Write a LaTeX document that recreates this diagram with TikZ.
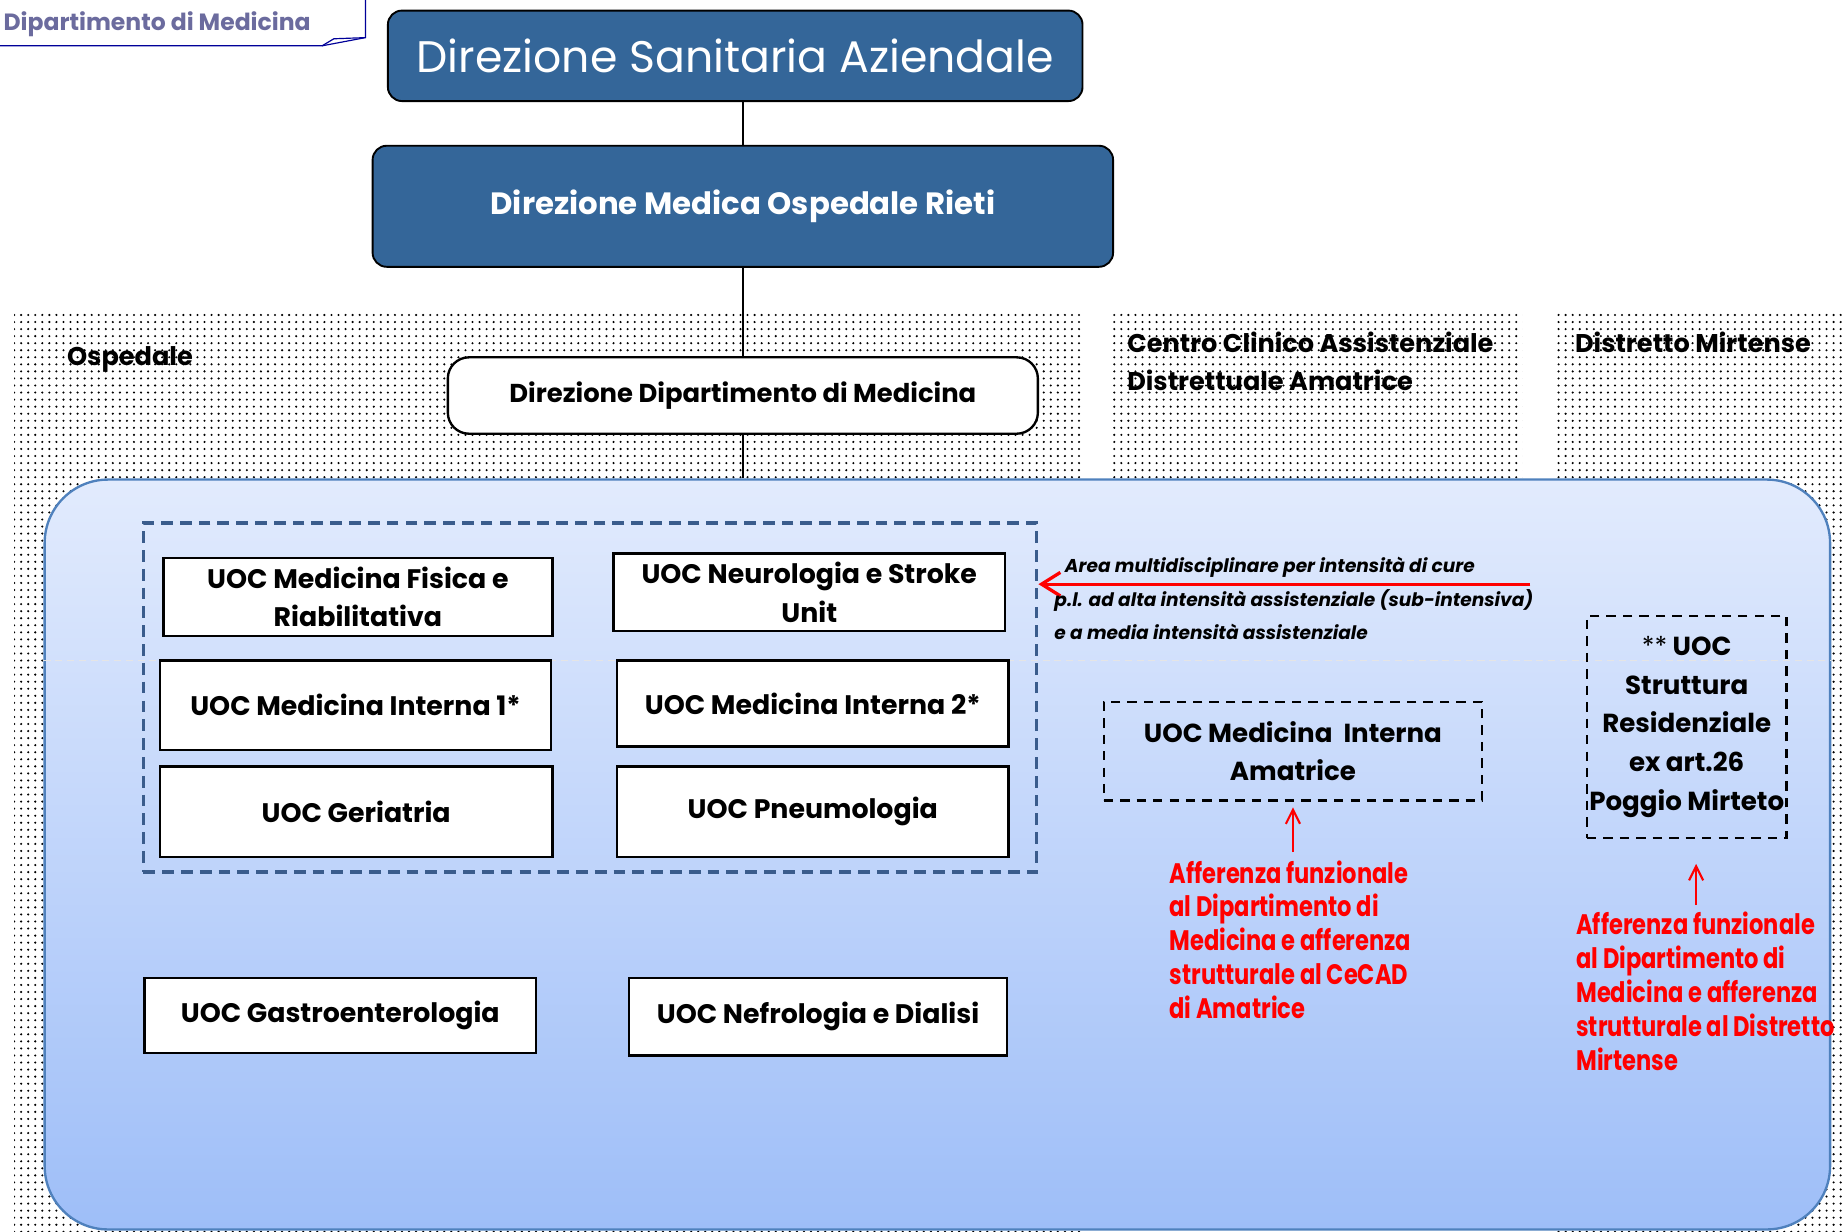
\documentclass[tikz,border=0pt]{standalone}
\usepackage{fontspec}
\setmainfont{Poppins}
\newfontfamily\narrowfont[FakeStretch=0.8]{Poppins}
\usetikzlibrary{patterns,arrows.meta}
\definecolor{dirblue}{RGB}{52,102,153}
\definecolor{grpblue}{RGB}{58,92,140}
\definecolor{contline}{RGB}{79,129,189}
\definecolor{conttop}{RGB}{226,235,253}
\definecolor{contbot}{RGB}{158,190,248}
\definecolor{callout}{RGB}{107,107,158}
\definecolor{noteRed}{RGB}{255,0,0}
\begin{document}
\begin{tikzpicture}[x=0.5pt,y=-0.5pt,
  dirbox/.style={draw=black, line width=0.8pt, fill=dirblue, rounded corners=6pt, text=white},
  depbox/.style={draw=black, line width=1pt, fill=white, rounded corners=9pt, font=\fontsize{11}{13}\selectfont\bfseries},
  uocbox/.style={draw=black, line width=1pt, fill=white, align=center, font=\fontsize{11.4}{16.3}\selectfont\bfseries},
  extbox/.style={draw=black, line width=0.9pt, dash pattern=on 4pt off 3pt, align=center, font=\fontsize{11.1}{16.4}\selectfont\bfseries},
  area/.style={pattern=dots, pattern color=black},
  arealabel/.style={align=left, font=\fontsize{10.9}{16.5}\selectfont\bfseries},
  rednote/.style={align=left, text=noteRed, font=\narrowfont\fontsize{12}{14.4}\selectfont\bfseries},
  redarrow/.style={draw=noteRed, -{Straight Barb[length=6pt,width=6pt]}, line width=0.9pt, shorten >=2.5pt},
  link/.style={draw=black, line width=0.7pt}]
\useasboundingbox (0,0) rectangle (1568,1048);
% dotted areas
\fill[area] (12,265) rectangle (922,1048);
\fill[area] (947,265) rectangle (1295,420);
\fill[area] (1325,265) rectangle (1568,1048);
\node[arealabel, anchor=west] (ospLbl) at (50,306) {Ospedale};
\node[arealabel, anchor=north west] (cecadLbl) at (952,275) {Centro Clinico Assistenziale\\Distrettuale Amatrice};
\node[arealabel, anchor=west] (mirLbl) at (1333,291) {Distretto Mirtense};
% callout at top left
\draw[draw=blue!60!black, line width=0.5pt, fill=white] (-5,-5) -- (311,-5) -- (311,32) -- (274,39) -- (-5,39) -- cycle;
\draw[draw=blue!60!black, line width=0.5pt] (274,39) -- (284,33) -- (311,32);
\node[anchor=west, text=callout, font=\fontsize{10}{12}\selectfont\bfseries] (calloutTxt) at (-4,21) {Dipartimento di Medicina};
% direzioni
\node[dirbox, minimum width=295.5pt, minimum height=38.5pt, font=\fontsize{18.8}{22}\selectfont] (sanit) at (625.5,47.5) {Direzione Sanitaria Aziendale};
\node[dirbox, minimum width=315pt, minimum height=51.5pt, font=\fontsize{13.1}{15}\selectfont\bfseries] (medica) at (632,175.5) {Direzione Medica Ospedale Rieti};
\node[depbox, minimum width=251pt, minimum height=32.5pt] (dipdir) at (632,336.5) {Direzione Dipartimento di Medicina};
\draw[link] (sanit.south -| medica.north) -- (medica.north);
\draw[link] (medica) -- (dipdir);
% department container
\node[draw=contline, line width=1pt, rounded corners=27pt, top color=conttop, bottom color=contbot, minimum width=759.5pt, minimum height=319pt] (cont) at (797.5,727) {};
\draw[link] (dipdir.south) -- (dipdir.south |- cont.north);
\draw[white!80!gray, line width=0.3pt, densely dashed] (cont.west |- 0,562) -- (cont.east |- 0,562);
% area multidisciplinare
\node[draw=grpblue, line width=1.5pt, dash pattern=on 5pt off 3pt, minimum width=380pt, minimum height=148.5pt] (grp) at (502,593.5) {};
\node[uocbox, minimum width=165.5pt, minimum height=33pt] (fisica) at (304.5,508) {UOC Medicina Fisica e\\Riabilitativa};
\node[uocbox, minimum width=166.5pt, minimum height=33pt] (neuro) at (688.5,504) {UOC Neurologia e Stroke\\Unit};
\node[uocbox, minimum width=166.5pt, minimum height=38pt] (int1) at (302.5,600) {UOC Medicina Interna 1*};
\node[uocbox, minimum width=166.5pt, minimum height=36.5pt] (int2) at (691.5,598.5) {UOC Medicina Interna 2*};
\node[uocbox, minimum width=167pt, minimum height=38.5pt] (geri) at (303,690.5) {UOC Geriatria};
\node[uocbox, minimum width=166.5pt, minimum height=38.5pt] (pneumo) at (691.5,690.5) {UOC Pneumologia};
\node[uocbox, minimum width=166.5pt, minimum height=32pt] (gastro) at (289.5,864) {UOC Gastroenterologia};
\node[uocbox, minimum width=161pt, minimum height=33pt] (nefro) at (696,865) {UOC Nefrologia e Dialisi};
\coordinate (noteEnd) at (1302,497);
\draw[draw=noteRed, line width=1.4pt, -{Straight Barb[length=8pt,width=10pt]}] (noteEnd) -- (noteEnd -| grp.east);
\node[anchor=north west, align=left, font=\fontsize{7.9}{14.3}\selectfont\bfseries\itshape] (noteTxt) at (890,467) {\hspace*{4.5pt}Area multidisciplinare per intensità di cure\\p.l. ad alta intensità assistenziale (sub-intensiva)\\e a media intensità assistenziale};
% strutture esterne
\node[extbox, minimum width=161pt, minimum height=42pt] (amatr) at (1100,639) {UOC Medicina\ \ Interna\\Amatrice};
\node[extbox, minimum width=83pt, minimum height=94.5pt, inner sep=1pt] (resid) at (1435,618.5) {{\mdseries**} UOC\\Struttura\\Residenziale\\ex art.26\\Poggio Mirteto};
\node[rednote, anchor=north west] (amatrNote) at (988,725) {Afferenza funzionale\\al Dipartimento di\\Medicina e afferenza\\strutturale al CeCAD\\di Amatrice};
\node[rednote, anchor=north west] (residNote) at (1334,769) {Afferenza funzionale\\al Dipartimento di\\Medicina e afferenza\\strutturale al Distretto\\Mirtense};
\draw[redarrow] (amatrNote.north -| amatr.south) -- (amatr.south);
\draw[redarrow] (1443,770) -- (1443,730);
\end{tikzpicture}
\end{document}
